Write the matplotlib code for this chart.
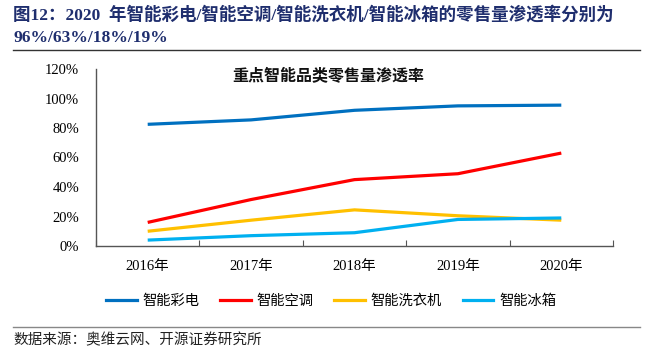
import matplotlib
matplotlib.use("Agg")
import matplotlib.pyplot as plt
from matplotlib.lines import Line2D

years = ["2016年", "2017年", "2018年", "2019年", "2020年"]
smart_tv = [82.5, 85.5, 92.0, 95.0, 95.5]
smart_ac = [16.0, 31.5, 45.0, 49.0, 63.0]
smart_washer = [10.0, 17.5, 24.5, 20.5, 17.5]
smart_fridge = [4.0, 7.0, 9.0, 18.0, 19.0]
series_names = ["智能彩电", "智能空调", "智能洗衣机", "智能冰箱"]
yticks = [0, 20, 40, 60, 80, 100, 120]

colors = ["#0070C0", "#FF0000", "#FFC000", "#00B0F0"]
serif = ["Liberation Serif", "Noto Sans CJK SC"]
cjk = ["Noto Sans CJK SC", "DejaVu Sans"]

W, H = 654, 353
fig = plt.figure(figsize=(W / 100, H / 100), dpi=100)
ax = fig.add_axes([96 / W, 1 - 246 / H, (613 - 96) / W, (246 - 69) / H])

x = list(range(len(years)))
for vals, c in zip([smart_tv, smart_ac, smart_washer, smart_fridge], colors):
    ax.plot(x, vals, color=c, lw=2.3, solid_capstyle="butt")

ax.set_xlim(-0.5, len(years) - 0.5)
ax.set_ylim(0, 120)
ax.set_yticks(yticks)
ax.set_yticklabels([f"{v}%" for v in yticks], fontfamily=serif, fontsize=10.5)
ax.set_xticks(x)
ax.set_xticklabels(years, fontfamily=serif, fontsize=10.5)
ax.set_xticks([i - 0.5 for i in range(len(years) + 1)], minor=True)
ax.tick_params(axis="x", which="major", length=0, pad=10)
ax.tick_params(axis="x", which="minor", direction="in", length=4.5, color="#555555", width=0.8)
ax.tick_params(axis="y", length=0, pad=12)
for s in ["top", "right"]:
    ax.spines[s].set_visible(False)
for s in ["left", "bottom"]:
    ax.spines[s].set_color("#555555")
    ax.spines[s].set_linewidth(1.0)

fig.text(328 / W, 1 - 75 / H, "重点智能品类零售量渗透率", ha="center", va="center",
         fontsize=11.5, fontweight="bold", fontfamily=cjk, color="#111111")

handles = [Line2D([0], [0], color=c, lw=2.3) for c in colors]
fig.legend(handles, series_names, loc="center", bbox_to_anchor=(331 / W, 1 - 301 / H),
           ncol=4, frameon=False, prop={"family": cjk, "size": 10.3},
           handlelength=2.15, columnspacing=1.45, handletextpad=0.4)

title_color = "#1F2E6E"
fig.text(13 / W, 1 - 15 / H, "图12：2020  年智能彩电/智能空调/智能洗衣机/智能冰箱的零售量渗透率分别为",
         ha="left", va="center", fontsize=12.6, fontweight="bold", fontfamily=serif, color=title_color)
fig.text(13 / W, 1 - 38 / H, "96%/63%/18%/19%",
         ha="left", va="center", fontsize=12.6, fontweight="bold", fontfamily=serif, color=title_color)

fig.add_artist(Line2D([13 / W, 640 / W], [1 - 50 / H, 1 - 50 / H], color="#333333", lw=1.0))
fig.add_artist(Line2D([13 / W, 640 / W], [1 - 327 / H, 1 - 327 / H], color="#888888", lw=1.0))

fig.text(13 / W, 1 - 340 / H, "数据来源：奥维云网、开源证券研究所", ha="left", va="center",
         fontsize=10.5, fontfamily=cjk, color="#222222")

fig.savefig("out.png", dpi=100)
